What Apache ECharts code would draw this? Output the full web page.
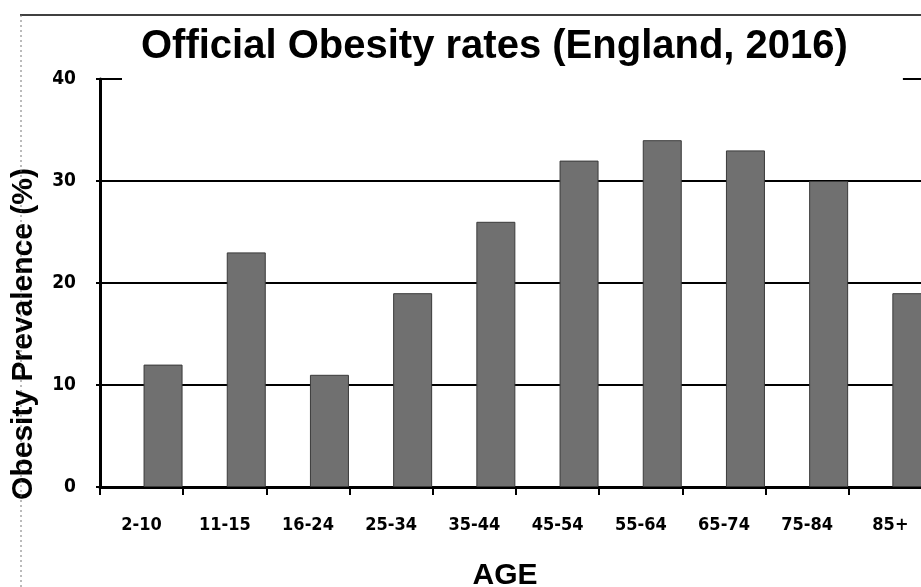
<!DOCTYPE html>
<html>
<head>
<meta charset="utf-8">
<script src="https://cdn.jsdelivr.net/npm/echarts@6/dist/echarts.min.js"></script>
<style>
  html, body { margin: 0; padding: 0; background: #fff; }
  #chart { width: 921px; height: 587px; }
</style>
</head>
<body>
<div id="chart"></div>
<script>
// Age bands and obesity prevalence (%) for England, 2016
var ageBands = ['2-10', '11-15', '16-24', '25-34', '35-44', '45-54', '55-64', '65-74', '75-84', '85+'];
var prevalence = [12, 23, 11, 19, 26, 32, 34, 33, 30, 19];
var yTicks = [0, 10, 20, 30, 40];

var narrow = "'Liberation Sans Narrow', 'Arial Narrow', 'DejaVu Sans Condensed', sans-serif";
var sans = "'Liberation Sans', Arial, sans-serif";

var chart = echarts.init(document.getElementById('chart'), null, { renderer: 'canvas' });

chart.setOption({
  animation: false,
  backgroundColor: '#fff',
  title: {
    text: 'Official Obesity rates (England, 2016)',
    left: 122,
    top: 25,
    padding: [0, 55, 13, 19],
    backgroundColor: '#fff',
    textStyle: {
      fontFamily: sans,
      fontWeight: 'bold',
      fontSize: 40,
      lineHeight: 44,
      color: '#000'
    }
  },
  grid: {
    left: 100,
    top: 79,
    bottom: 100,
    right: -11,
    containLabel: false,
    outerBoundsMode: 'none'
  },
  xAxis: {
    type: 'category',
    data: ageBands,
    name: 'AGE',
    nameLocation: 'middle',
    nameGap: 74,
    nameTextStyle: {
      fontFamily: sans,
      fontWeight: 'bold',
      fontSize: 30,
      lineHeight: 30,
      color: '#000',
      padding: [0, 22, 0, 0]
    },
    axisLine: { show: true, lineStyle: { color: '#000', width: 3 } },
    axisTick: { show: true, length: 8, lineStyle: { color: '#000', width: 2 } },
    axisLabel: {
      margin: 29,
      fontFamily: narrow,
      fontWeight: 'bold',
      fontSize: 18,
      color: '#000'
    },
    splitLine: { show: false }
  },
  yAxis: {
    type: 'value',
    min: yTicks[0],
    max: yTicks[yTicks.length - 1],
    interval: yTicks[1] - yTicks[0],
    name: 'Obesity Prevalence (%)',
    nameLocation: 'middle',
    nameGap: 61,
    nameTextStyle: {
      fontFamily: sans,
      fontWeight: 'bold',
      fontSize: 30,
      lineHeight: 30,
      color: '#000',
      padding: [0, 102, 0, 0]
    },
    axisLine: { show: true, lineStyle: { color: '#000', width: 3 } },
    axisTick: { show: true, length: 4, lineStyle: { color: '#000', width: 2 } },
    axisLabel: {
      margin: 24,
      fontFamily: narrow,
      fontWeight: 'bold',
      fontSize: 19,
      color: '#000'
    },
    splitLine: { show: true, lineStyle: { color: '#000', width: 2 } }
  },
  series: [
    {
      // empty leading slot in each category, so the bars sit right of centre
      name: 'spacer',
      type: 'bar',
      barWidth: 39,
      barGap: '10%',
      data: ageBands.map(function () { return null; })
    },
    {
      name: 'Obesity prevalence',
      type: 'bar',
      barWidth: 39,
      barGap: '10%',
      data: prevalence,
      itemStyle: {
        color: '#707070',
        borderColor: '#3a3a3a',
        borderWidth: 1
      }
    }
  ],
  graphic: [
    {
      type: 'line',
      shape: { x1: 20, y1: 15, x2: 921, y2: 15 },
      style: { stroke: '#000', lineWidth: 1.5 },
      z: 10
    },
    {
      type: 'line',
      shape: { x1: 21, y1: 15, x2: 21, y2: 587 },
      style: { stroke: '#777', lineWidth: 1, lineDash: [2, 3] },
      z: 10
    }
  ]
});
</script>
</body>
</html>
